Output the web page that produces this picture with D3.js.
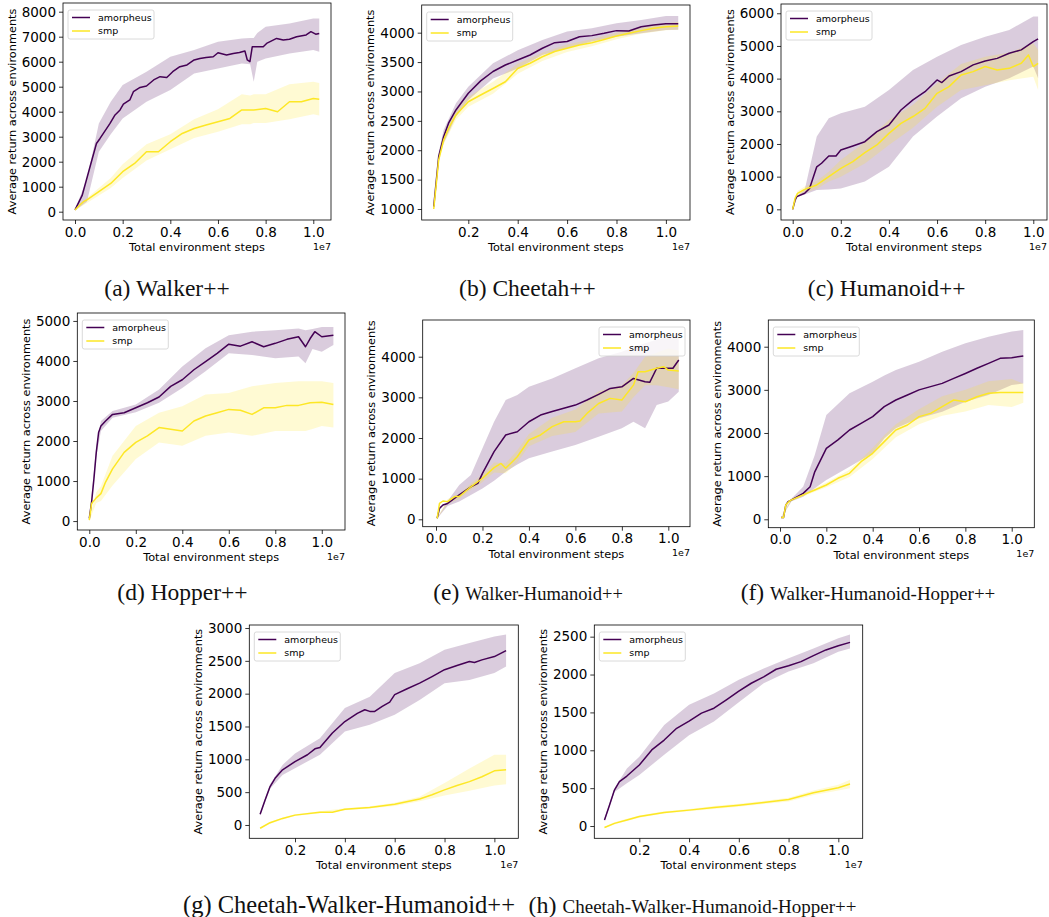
<!DOCTYPE html>
<html>
<head>
<meta charset="utf-8">
<script src="https://cdn.jsdelivr.net/npm/d3@7"></script>
<style>
  body { margin: 0; background: #fff; }
  svg { display: block; }
</style>
</head>
<body>
<svg id="fig" width="1049" height="917"></svg>
<script>
// ---- data (x in units of 1e7 steps) ----

// (a) Walker++
var aAmX = [0, 0.03, 0.063, 0.09, 0.105, 0.147, 0.168, 0.189, 0.203, 0.23, 0.245, 0.273, 0.30, 0.33, 0.357, 0.385, 0.41, 0.44, 0.47, 0.50, 0.524, 0.55, 0.58, 0.60, 0.636, 0.664, 0.69, 0.713, 0.723, 0.734, 0.744, 0.762, 0.79, 0.804, 0.846, 0.874, 0.90, 0.93, 0.97, 0.99, 1.01, 1.025];
var aAmY = [70, 650, 1800, 2730, 2930, 3530, 3870, 4070, 4300, 4470, 4800, 4970, 5030, 5270, 5400, 5370, 5600, 5800, 5870, 6070, 6130, 6170, 6200, 6360, 6270, 6330, 6370, 6430, 6070, 6000, 6600, 6600, 6600, 6730, 6930, 6870, 6900, 7000, 7070, 7200, 7100, 7130];
var aSmX = [0, 0.02, 0.035, 0.05, 0.1, 0.15, 0.2, 0.25, 0.3, 0.35, 0.4, 0.45, 0.5, 0.55, 0.6, 0.65, 0.7, 0.75, 0.8, 0.85, 0.9, 0.95, 1.0, 1.025];
var aSmY = [70, 270, 400, 470, 800, 1130, 1600, 1930, 2400, 2400, 2800, 3130, 3330, 3470, 3600, 3730, 4070, 4070, 4130, 4000, 4400, 4400, 4530, 4500];
var aBandX = [0, 0.05, 0.1, 0.15, 0.2, 0.3, 0.4, 0.5, 0.6, 0.7, 0.735, 0.75, 0.765, 0.8, 0.9, 1.0, 1.025];
var aAmLo = [50, 400, 2400, 3100, 3730, 4400, 4870, 5530, 5730, 5930, 5900, 5200, 6000, 6130, 6330, 6470, 6400];
var aAmHi = [100, 1300, 3530, 4400, 5070, 5600, 6200, 6470, 6800, 6930, 6950, 6950, 7150, 7400, 7530, 7730, 7730];
var aSmLo = [50, 350, 650, 950, 1350, 2050, 2500, 2950, 3200, 3500, 3500, 3550, 3550, 3550, 3700, 3900, 3850];
var aSmHi = [100, 550, 950, 1350, 1900, 2700, 3100, 3700, 4100, 4700, 4650, 4700, 4700, 4700, 5100, 5200, 5150];

// (b) Cheetah++
var bAmX = [0.06, 0.07, 0.08, 0.1, 0.12, 0.15, 0.2, 0.25, 0.3, 0.35, 0.4, 0.45, 0.5, 0.55, 0.6, 0.65, 0.7, 0.75, 0.8, 0.85, 0.9, 0.95, 1.0, 1.05];
var bAmY = [1040, 1465, 1890, 2230, 2460, 2685, 2970, 3180, 3340, 3450, 3535, 3620, 3735, 3830, 3850, 3930, 3950, 3990, 4035, 4030, 4100, 4130, 4150, 4150];
var bSmX = bAmX;
var bSmY = [1000, 1410, 1835, 2175, 2370, 2600, 2825, 2940, 3050, 3165, 3390, 3480, 3590, 3680, 3735, 3790, 3830, 3885, 3945, 3990, 4035, 4075, 4100, 4115];
var bBandX = [0.06, 0.08, 0.1, 0.15, 0.2, 0.3, 0.4, 0.5, 0.6, 0.7, 0.8, 0.9, 1.0, 1.05];
var bAmLo = [1000, 1830, 2120, 2570, 2855, 3220, 3390, 3620, 3735, 3850, 3930, 3990, 4045, 4050];
var bAmHi = [1080, 1960, 2345, 2800, 3080, 3480, 3700, 3875, 4020, 4075, 4160, 4215, 4285, 4285];
var bSmLo = [960, 1780, 2100, 2520, 2740, 2960, 3300, 3520, 3670, 3770, 3890, 3980, 4040, 4050];
var bSmHi = [1040, 1890, 2250, 2680, 2910, 3165, 3470, 3660, 3800, 3890, 4000, 4090, 4160, 4180];

// (c) Humanoid++
var cAmX = [0, 0.01, 0.017, 0.05, 0.07, 0.1, 0.12, 0.15, 0.18, 0.2, 0.25, 0.3, 0.35, 0.4, 0.45, 0.5, 0.55, 0.6, 0.62, 0.65, 0.7, 0.75, 0.8, 0.85, 0.9, 0.95, 1.0, 1.02];
var cAmY = [0, 285, 390, 490, 640, 1300, 1410, 1630, 1630, 1815, 1940, 2070, 2380, 2580, 3040, 3350, 3600, 3960, 3880, 4080, 4215, 4420, 4540, 4620, 4775, 4880, 5130, 5215];
var cSmX = [0, 0.01, 0.02, 0.05, 0.08, 0.1, 0.15, 0.2, 0.25, 0.3, 0.35, 0.4, 0.45, 0.5, 0.55, 0.6, 0.65, 0.7, 0.75, 0.8, 0.85, 0.9, 0.95, 0.98, 1.0, 1.02];
var cSmY = [0, 340, 490, 610, 690, 745, 1000, 1255, 1460, 1735, 1970, 2325, 2630, 2840, 3090, 3550, 3755, 4110, 4215, 4370, 4265, 4315, 4470, 4725, 4370, 4470];
var cBandX = [0, 0.02, 0.05, 0.1, 0.15, 0.2, 0.3, 0.4, 0.5, 0.6, 0.7, 0.8, 0.9, 1.0, 1.02];
var cAmLo = [0, 380, 450, 590, 610, 640, 850, 1300, 2225, 2840, 3400, 3755, 4010, 4370, 4010];
var cAmHi = [0, 420, 600, 2225, 2785, 2940, 3140, 3650, 4265, 4670, 5030, 5285, 5490, 5900, 5900];
var cSmLo = [0, 420, 520, 620, 850, 1000, 1400, 1970, 2500, 3140, 3650, 3800, 3950, 4060, 3650];
var cSmHi = [0, 560, 700, 870, 1150, 1510, 2050, 2735, 3200, 3860, 4450, 4670, 4800, 5080, 4880];

// (d) Hopper++
var dAmX = [0, 0.01, 0.02, 0.03, 0.04, 0.05, 0.07, 0.1, 0.15, 0.2, 0.25, 0.3, 0.35, 0.4, 0.45, 0.5, 0.55, 0.6, 0.65, 0.7, 0.75, 0.8, 0.85, 0.9, 0.93, 0.95, 0.97, 1.0, 1.05];
var dAmY = [66, 480, 1060, 1715, 2210, 2375, 2500, 2665, 2705, 2830, 2955, 3100, 3365, 3530, 3780, 3985, 4190, 4420, 4370, 4480, 4355, 4440, 4540, 4605, 4355, 4560, 4730, 4605, 4645];
var dSmX = [0, 0.01, 0.03, 0.05, 0.07, 0.1, 0.15, 0.2, 0.25, 0.3, 0.35, 0.4, 0.45, 0.5, 0.55, 0.6, 0.65, 0.7, 0.75, 0.8, 0.85, 0.9, 0.95, 1.0, 1.05];
var dSmY = [25, 440, 580, 685, 975, 1305, 1715, 1965, 2130, 2335, 2295, 2250, 2500, 2625, 2705, 2790, 2770, 2665, 2830, 2830, 2890, 2890, 2955, 2970, 2910];
var dBandX = [0, 0.03, 0.05, 0.1, 0.2, 0.3, 0.4, 0.5, 0.6, 0.7, 0.8, 0.9, 0.93, 0.96, 1.0, 1.05];
var dAmLo = [50, 1600, 2250, 2580, 2720, 2955, 3325, 3740, 4190, 4150, 4070, 4110, 3945, 4300, 4230, 4400];
var dAmHi = [80, 1850, 2500, 2750, 2910, 3285, 3860, 4315, 4645, 4730, 4770, 4810, 4770, 4800, 4850, 4850];
var dSmLo = [0, 450, 500, 890, 1550, 1965, 1880, 2130, 2210, 2130, 2250, 2250, 2250, 2300, 2375, 2335];
var dSmHi = [50, 720, 870, 1635, 2375, 2705, 2870, 3160, 3200, 3365, 3450, 3490, 3490, 3490, 3490, 3450];

// (e) Walker-Humanoid++
var eAmX = [0.005, 0.015, 0.03, 0.05, 0.1, 0.15, 0.18, 0.2, 0.25, 0.3, 0.35, 0.4, 0.45, 0.5, 0.55, 0.6, 0.65, 0.7, 0.75, 0.8, 0.85, 0.9, 0.92, 0.95, 1.0, 1.02, 1.045];
var eAmY = [25, 270, 350, 390, 600, 800, 885, 1130, 1665, 2075, 2155, 2400, 2565, 2650, 2730, 2810, 2935, 3075, 3220, 3260, 3465, 3385, 3370, 3715, 3715, 3715, 3920];
var eSmX = [0.005, 0.015, 0.03, 0.05, 0.08, 0.1, 0.15, 0.2, 0.25, 0.28, 0.3, 0.35, 0.4, 0.45, 0.5, 0.55, 0.6, 0.62, 0.65, 0.7, 0.75, 0.8, 0.85, 0.87, 0.9, 0.95, 0.98, 1.0, 1.045];
var eSmY = [25, 390, 450, 435, 560, 560, 800, 1010, 1270, 1375, 1255, 1540, 1950, 2075, 2280, 2400, 2400, 2420, 2605, 2850, 2975, 2935, 3300, 3630, 3630, 3715, 3755, 3670, 3650];
var eBandX = [0.005, 0.05, 0.1, 0.15, 0.2, 0.25, 0.3, 0.35, 0.4, 0.5, 0.6, 0.7, 0.8, 0.85, 0.9, 0.95, 1.0, 1.045];
var eAmLo = [20, 330, 435, 600, 760, 950, 1170, 1350, 1500, 1665, 1830, 2030, 2240, 2400, 2240, 2810, 2895, 3140];
var eAmHi = [30, 450, 845, 1090, 1745, 2400, 2935, 3060, 3260, 3465, 3715, 3960, 4120, 4230, 4330, 4420, 4490, 4575];
var eSmLo = [20, 380, 500, 720, 920, 1150, 1130, 1400, 1800, 2050, 2150, 2600, 2650, 3000, 3300, 3300, 3250, 3200];
var eSmHi = [30, 500, 620, 880, 1100, 1400, 1380, 1700, 2100, 2500, 2700, 3150, 3300, 3600, 4000, 4100, 4200, 4150];

// (f) Walker-Humanoid-Hopper++
var fAmX = [0.005, 0.015, 0.025, 0.035, 0.05, 0.1, 0.13, 0.15, 0.2, 0.25, 0.3, 0.35, 0.4, 0.45, 0.5, 0.55, 0.6, 0.65, 0.7, 0.75, 0.8, 0.85, 0.9, 0.95, 1.0, 1.05];
var fAmY = [40, 40, 330, 410, 450, 600, 755, 1100, 1645, 1840, 2070, 2225, 2380, 2610, 2765, 2880, 3000, 3075, 3150, 3265, 3380, 3500, 3615, 3730, 3745, 3785];
var fSmX = [0.005, 0.015, 0.025, 0.04, 0.05, 0.1, 0.15, 0.2, 0.25, 0.3, 0.35, 0.4, 0.45, 0.5, 0.55, 0.6, 0.65, 0.7, 0.75, 0.8, 0.85, 0.9, 0.95, 1.0, 1.05];
var fSmY = [40, 40, 330, 420, 450, 565, 680, 795, 950, 1065, 1335, 1530, 1800, 2070, 2185, 2380, 2455, 2610, 2765, 2725, 2840, 2920, 2940, 2940, 2940];
var fBandX = [0.005, 0.05, 0.1, 0.15, 0.2, 0.3, 0.4, 0.45, 0.5, 0.6, 0.7, 0.8, 0.9, 1.0, 1.05];
var fAmLo = [30, 420, 525, 720, 910, 1220, 1530, 1875, 2110, 2340, 2495, 2725, 2880, 3110, 3150];
var fAmHi = [50, 480, 755, 1490, 2415, 2920, 3190, 3330, 3460, 3650, 3885, 4080, 4230, 4350, 4385];
var fSmLo = [30, 420, 530, 640, 740, 980, 1400, 1650, 1900, 2200, 2400, 2500, 2650, 2600, 2700];
var fSmHi = [50, 480, 600, 720, 850, 1150, 1650, 1950, 2200, 2550, 2850, 3000, 3200, 3250, 3150];

// (g) Cheetah-Walker-Humanoid++
var gAmX = [0.06, 0.08, 0.1, 0.12, 0.15, 0.2, 0.25, 0.28, 0.3, 0.35, 0.4, 0.45, 0.48, 0.5, 0.52, 0.55, 0.58, 0.6, 0.65, 0.7, 0.75, 0.8, 0.85, 0.9, 0.92, 0.95, 1.0, 1.047];
var gAmY = [163, 380, 585, 710, 840, 965, 1070, 1160, 1180, 1400, 1575, 1700, 1755, 1730, 1730, 1805, 1870, 1985, 2075, 2160, 2260, 2365, 2430, 2490, 2475, 2515, 2565, 2655];
var gSmX = [0.06, 0.1, 0.15, 0.2, 0.3, 0.35, 0.4, 0.5, 0.6, 0.7, 0.75, 0.8, 0.85, 0.9, 0.95, 1.0, 1.047];
var gSmY = [-50, 35, 100, 150, 195, 195, 240, 265, 315, 395, 460, 535, 600, 660, 735, 825, 840];
var gBandX = [0.06, 0.1, 0.15, 0.2, 0.3, 0.4, 0.5, 0.6, 0.7, 0.8, 0.9, 1.0, 1.047];
var gAmLo = [140, 550, 760, 865, 1070, 1425, 1525, 1680, 1905, 2160, 2210, 2315, 2415];
var gAmHi = [190, 620, 915, 1090, 1320, 1780, 1955, 2315, 2465, 2670, 2770, 2870, 2900];
var gSmLo = [-60, 20, 85, 135, 180, 225, 250, 290, 360, 450, 520, 600, 620];
var gSmHi = [-40, 50, 115, 165, 210, 255, 285, 340, 430, 640, 860, 1070, 1070];

// (h) Cheetah-Walker-Humanoid-Hopper++
var hAmX = [0.06, 0.08, 0.1, 0.12, 0.15, 0.2, 0.25, 0.3, 0.35, 0.4, 0.45, 0.5, 0.55, 0.6, 0.65, 0.7, 0.75, 0.8, 0.85, 0.9, 0.95, 1.0, 1.047];
var hAmY = [80, 275, 475, 585, 660, 805, 1005, 1135, 1290, 1385, 1490, 1555, 1665, 1780, 1885, 1970, 2070, 2115, 2170, 2250, 2325, 2380, 2425];
var hSmX = [0.06, 0.1, 0.15, 0.2, 0.3, 0.4, 0.5, 0.6, 0.7, 0.8, 0.9, 1.0, 1.047];
var hSmY = [-20, 35, 80, 125, 180, 210, 245, 275, 310, 350, 440, 505, 555];
var hBandX = [0.06, 0.1, 0.15, 0.2, 0.3, 0.4, 0.5, 0.6, 0.7, 0.8, 0.9, 1.0, 1.047];
var hAmLo = [60, 450, 565, 675, 940, 1200, 1380, 1635, 1885, 2040, 2150, 2300, 2345];
var hAmHi = [100, 500, 760, 915, 1335, 1600, 1750, 1930, 2080, 2215, 2345, 2480, 2530];
var hSmLo = [-30, 20, 65, 110, 165, 195, 225, 255, 290, 325, 410, 470, 500];
var hSmHi = [-10, 50, 95, 140, 195, 225, 265, 295, 330, 375, 470, 545, 610];

var legendNames = ["amorpheus", "smp"];
var xTicksFull = [0, 0.2, 0.4, 0.6, 0.8, 1.0];
var xTicksLate = [0.2, 0.4, 0.6, 0.8, 1.0];

// ---- layout: frame box [left, top, right, bottom], axis domains, caption ----
var panels = [
  {box: [63, 3, 331, 220], xDom: [-0.0504, 1.0743], yDom: [-332, 8348], yTicks: d3.range(0, 8001, 1000), xTicks: xTicksFull,
   am: [aAmX, aAmY], sm: [aSmX, aSmY], band: [aBandX, aAmLo, aAmHi, aSmLo, aSmHi], legend: "left",
   cap: ["(a) ", "Walker++"], capSize: [23.5, 23.5], capX: 167, capY: 296},
  {box: [421.7, 5, 690, 220], xDom: [0.0113, 1.0976], yDom: [813, 4471], yTicks: d3.range(1000, 4001, 500), xTicks: xTicksLate,
   am: [bAmX, bAmY], sm: [bSmX, bSmY], band: [bBandX, bAmLo, bAmHi, bSmLo, bSmHi], legend: "left",
   cap: ["(b) ", "Cheetah++"], capSize: [23.5, 23.5], capX: 527.5, capY: 296},
  {box: [781, 4, 1047, 220], xDom: [-0.0486, 1.057], yDom: [-327, 6284], yTicks: d3.range(0, 6001, 1000), xTicks: xTicksFull,
   am: [cAmX, cAmY], sm: [cSmX, cSmY], band: [cBandX, cAmLo, cAmHi, cSmLo, cSmHi], legend: "left",
   cap: ["(c) ", "Humanoid++"], capSize: [23.5, 23.5], capX: 886.7, capY: 296},
  {box: [77.3, 313, 345, 530], xDom: [-0.0516, 1.0999], yDom: [-223, 5198], yTicks: d3.range(0, 5001, 1000), xTicks: xTicksFull,
   am: [dAmX, dAmY], sm: [dSmX, dSmY], band: [dBandX, dAmLo, dAmHi, dSmLo, dSmHi], legend: "left",
   cap: ["(d) ", "Hopper++"], capSize: [23.5, 23.5], capX: 182.5, capY: 600},
  {box: [422.7, 320, 690, 526.7], xDom: [-0.0573, 1.0934], yDom: [-182, 4903], yTicks: d3.range(0, 4001, 1000), xTicks: xTicksFull,
   am: [eAmX, eAmY], sm: [eSmX, eSmY], band: [eBandX, eAmLo, eAmHi, eSmLo, eSmHi], legend: "right",
   cap: ["(e) ", "Walker-Humanoid++"], capSize: [23.5, 18.5], capX: 528, capY: 600},
  {box: [768.3, 320, 1034.3, 527.7], xDom: [-0.0505, 1.0975], yDom: [-195, 4619], yTicks: d3.range(0, 4001, 1000), xTicks: xTicksFull,
   am: [fAmX, fAmY], sm: [fSmX, fSmY], band: [fBandX, fAmLo, fAmHi, fSmLo, fSmHi], legend: "left",
   cap: ["(f) ", "Walker-Humanoid-Hopper++"], capSize: [23.5, 19], capX: 868, capY: 600},
  {box: [249.3, 625, 518.3, 838.3], xDom: [0.0166, 1.096], yDom: [-203, 3046], yTicks: d3.range(0, 3001, 500), xTicks: xTicksLate,
   am: [gAmX, gAmY], sm: [gSmX, gSmY], band: [gBandX, gAmLo, gAmHi, gSmLo, gSmHi], legend: "left",
   cap: ["(g) ", "Cheetah-Walker-Humanoid++"], capSize: [24.5, 24.5], capX: 349, capY: 913},
  {box: [594.3, 625, 862.7, 838.3], xDom: [0.019, 1.098], yDom: [-162, 2654], yTicks: d3.range(0, 2501, 500), xTicks: xTicksLate,
   am: [hAmX, hAmY], sm: [hSmX, hSmY], band: [hBandX, hAmLo, hAmHi, hSmLo, hSmHi], legend: "left",
   cap: ["(h) ", "Cheetah-Walker-Humanoid-Hopper++"], capSize: [24, 19], capX: 692.5, capY: 913}
];

var purple = "#440154", yellow = "#fde725";
var sansFont = "DejaVu Sans, sans-serif";
var serifFont = "Liberation Serif, Times New Roman, serif";

var svg = d3.select("#fig");

panels.forEach(function(p) {
  var L = p.box[0], T = p.box[1], R = p.box[2], B = p.box[3];
  var x = d3.scaleLinear().domain(p.xDom).range([L, R]);
  var y = d3.scaleLinear().domain(p.yDom).range([B, T]);
  var g = svg.append("g");

  // bands (std) first, then means
  var bx = p.band[0];
  var area = function(lo, hi) {
    return d3.area()
      .x(function(d, i) { return x(bx[i]); })
      .y0(function(d, i) { return y(lo[i]); })
      .y1(function(d, i) { return y(hi[i]); })(bx);
  };
  g.append("path").attr("d", area(p.band[1], p.band[2]))
    .attr("fill", purple).attr("fill-opacity", 0.2);
  g.append("path").attr("d", area(p.band[3], p.band[4]))
    .attr("fill", yellow).attr("fill-opacity", 0.2);

  var line = function(xs, ys) {
    return d3.line()
      .x(function(d, i) { return x(xs[i]); })
      .y(function(d, i) { return y(ys[i]); })(xs);
  };
  g.append("path").attr("d", line(p.am[0], p.am[1]))
    .attr("fill", "none").attr("stroke", purple).attr("stroke-width", 1.5).attr("stroke-linejoin", "round");
  g.append("path").attr("d", line(p.sm[0], p.sm[1]))
    .attr("fill", "none").attr("stroke", yellow).attr("stroke-width", 1.5).attr("stroke-linejoin", "round");

  // axes
  var xAxis = g.append("g").attr("transform", "translate(0," + B + ")")
    .call(d3.axisBottom(x).tickValues(p.xTicks).tickFormat(d3.format(".1f")).tickSize(4).tickPadding(3));
  var yAxis = g.append("g").attr("transform", "translate(" + L + ",0)")
    .call(d3.axisLeft(y).tickValues(p.yTicks).tickFormat(d3.format("d")).tickSize(4).tickPadding(3));
  [xAxis, yAxis].forEach(function(ax) {
    ax.select(".domain").remove();
    ax.selectAll("line").attr("stroke", "#000").attr("stroke-width", 0.8);
    ax.selectAll("text").attr("fill", "#000")
      .style("font-family", sansFont).style("font-size", "13.5px");
  });

  // frame
  g.append("rect").attr("x", L).attr("y", T).attr("width", R - L).attr("height", B - T)
    .attr("fill", "none").attr("stroke", "#000").attr("stroke-width", 0.8);

  // axis labels
  g.append("text").attr("x", (L + R) / 2).attr("y", B + 31)
    .attr("text-anchor", "middle").style("font-family", sansFont).style("font-size", "11.3px")
    .text("Total environment steps");
  g.append("text").attr("x", R).attr("y", B + 29.5)
    .attr("text-anchor", "end").style("font-family", sansFont).style("font-size", "9.5px")
    .text("1e7");
  g.append("text")
    .attr("transform", "translate(" + (L - 51) + "," + ((T + B) / 2) + ") rotate(-90)")
    .attr("text-anchor", "middle").attr("dominant-baseline", "central")
    .style("font-family", sansFont).style("font-size", "11.3px")
    .text("Average return across environments");

  // legend
  var lw = 86, lh = 29;
  var lx = p.legend === "left" ? L + 5 : R - 5 - lw;
  var ly = T + 7;
  var leg = g.append("g").attr("transform", "translate(" + lx + "," + ly + ")");
  leg.append("rect").attr("width", lw).attr("height", lh).attr("rx", 2)
    .attr("fill", "#fff").attr("fill-opacity", 0.8).attr("stroke", "#d0d0d0").attr("stroke-width", 0.8);
  [purple, yellow].forEach(function(c, i) {
    var yy = 7.5 + i * 13.5;
    leg.append("line").attr("x1", 4).attr("x2", 22).attr("y1", yy).attr("y2", yy)
      .attr("stroke", c).attr("stroke-width", 1.5);
    leg.append("text").attr("x", 30).attr("y", yy).attr("dy", "0.35em")
      .style("font-family", sansFont).style("font-size", "9.5px").text(legendNames[i]);
  });

  // caption
  var cap = svg.append("text").attr("x", p.capX).attr("y", p.capY)
    .attr("text-anchor", "middle").style("font-family", serifFont).attr("fill", "#111");
  cap.append("tspan").style("font-size", p.capSize[0] + "px").text(p.cap[0]);
  cap.append("tspan").style("font-size", p.capSize[1] + "px").text(p.cap[1]);
});
</script>
</body>
</html>
